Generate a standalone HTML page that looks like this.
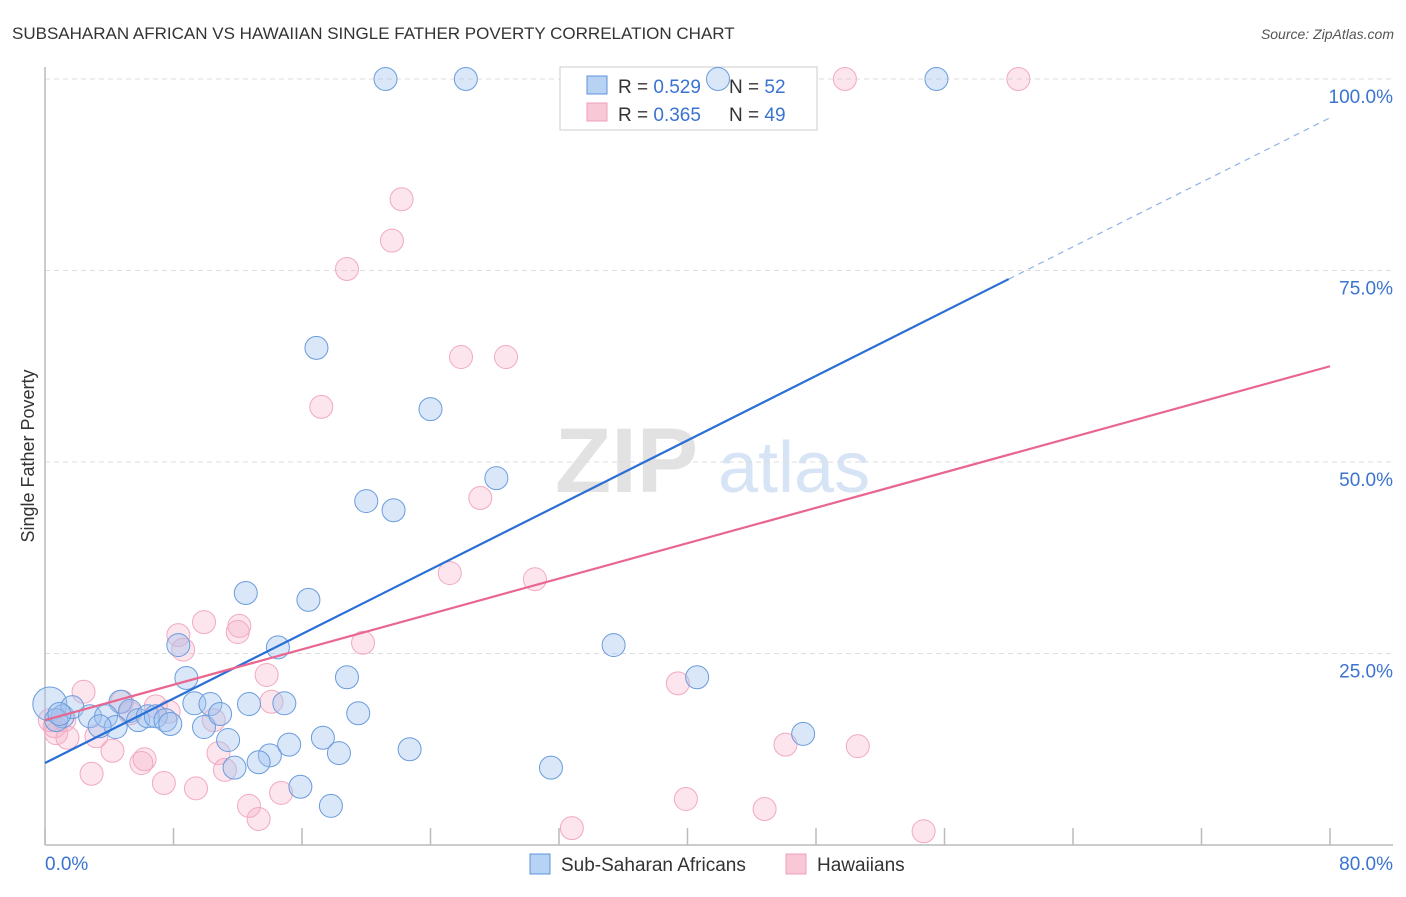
<!DOCTYPE html>
<html><head><meta charset="utf-8"><style>
body{margin:0;background:#fff;font-family:"Liberation Sans",sans-serif}
svg text{font-family:"Liberation Sans",sans-serif}
</style></head><body>
<svg id="chart" width="1406" height="892" xmlns="http://www.w3.org/2000/svg">
<text x="12" y="39" font-size="17" fill="#333">SUBSAHARAN AFRICAN VS HAWAIIAN SINGLE FATHER POVERTY CORRELATION CHART</text>
<text x="1394" y="39" font-size="14" fill="#555" font-style="italic" text-anchor="end">Source: ZipAtlas.com</text>
<g>
<text x="555" y="492" font-size="92" fill="#e2e2e2" font-family="Liberation Serif" font-weight="bold">ZIP</text>
<text x="718" y="492" font-size="72" fill="#d6e4f5">atlas</text>
</g>
<g id="grid"></g>
<g id="axes"></g>
<g>
<rect x="560" y="67" width="257" height="63" fill="#fff" stroke="#ccc"/>
<rect x="587" y="76" width="20" height="18" fill="#b8d2f3" stroke="#5b93d9"/>
<rect x="587" y="103" width="20" height="18" fill="#f9c8d6" stroke="#f0a0b8"/>
<text x="618" y="93" font-size="19" fill="#333">R = <tspan fill="#3a73d0">0.529</tspan></text>
<text x="729" y="93" font-size="19" fill="#333">N = <tspan fill="#3a73d0">52</tspan></text>
<text x="618" y="121" font-size="19" fill="#333">R = <tspan fill="#3a73d0">0.365</tspan></text>
<text x="729" y="121" font-size="19" fill="#333">N = <tspan fill="#3a73d0">49</tspan></text>
</g>
<g id="pts"></g>
<g id="lines"></g>
<text transform="translate(34,456) rotate(-90)" font-size="18" fill="#333" text-anchor="middle">Single Father Poverty</text>
<g>
<rect x="530" y="854" width="20" height="20" fill="#b8d2f3" stroke="#5b93d9"/>
<text x="561" y="871" font-size="19" fill="#333">Sub-Saharan Africans</text>
<rect x="786" y="854" width="20" height="20" fill="#f9c8d6" stroke="#f0a0b8"/>
<text x="817" y="871" font-size="19" fill="#333">Hawaiians</text>
</g>
</svg>
<script>
const blueX=[21.2,26.2,41.9,55.5,16.9,24.0,28.1,20.0,21.7,12.5,16.4,14.5,35.4,8.3,8.8,18.8,40.6,0.3,4.7,9.3,12.7,14.9,10.3,1.1,1.7,2.8,3.8,5.3,5.8,6.4,6.9,7.5,7.8,9.9,10.9,4.4,3.4,19.5,11.4,17.3,14.0,15.2,22.7,18.3,13.3,11.8,31.5,47.2,15.9,17.8,0.7,0.9];
const blueY=[100,100,100,100,64.9,56.9,47.9,44.9,43.7,32.9,32.0,25.8,26.1,26.1,21.8,21.9,21.9,18.4,18.7,18.5,18.4,18.5,18.4,16.8,18.0,16.8,16.8,17.5,16.3,16.8,16.8,16.3,15.8,15.4,17.1,15.4,15.5,17.2,13.7,14.0,11.7,13.1,12.5,12.0,10.8,10.1,10.1,14.5,7.6,5.1,16.3,17.1];
const pinkX=[49.8,60.6,22.2,21.6,18.8,25.9,28.7,17.2,27.1,25.2,30.5,19.8,8.3,8.6,9.9,12.1,12.0,13.8,14.1,2.4,4.8,6.9,7.7,5.3,10.5,1.2,0.6,0.3,0.7,1.4,3.2,4.2,6.2,6.0,10.8,11.2,2.9,7.4,9.4,12.7,14.7,13.3,39.9,32.8,44.8,46.1,50.6,54.7,39.4];
const pinkY=[100,100,84.3,78.9,75.2,63.7,63.7,57.2,45.3,35.5,34.7,26.4,27.4,25.5,29.1,28.6,27.8,22.2,18.7,20.0,18.7,18.1,17.4,17.2,16.3,16.3,15.5,16.3,14.6,14.0,14.2,12.3,11.2,10.7,12.0,9.8,9.3,8.1,7.4,5.1,6.8,3.4,6.0,2.2,4.7,13.1,12.9,1.8,21.1];
const blueLine=[10.7,1.053];
const pinkLine=[16.3,0.5775];
const yTicks=[25,50,75,100];
const yTickLabels=["25.0%","50.0%","75.0%","100.0%"];
const xTicks=[0,8,16,24,32,40,48,56,64,72,80];
const NS="http://www.w3.org/2000/svg";
const xs=v=>45+v*1285/80;
const ys=v=>845-v*7.66;
function mk(tag,attrs,parent){const e=document.createElementNS(NS,tag);for(const k in attrs)e.setAttribute(k,attrs[k]);parent.appendChild(e);return e;}
const grid=document.getElementById('grid'),axes=document.getElementById('axes');
yTicks.forEach((t,i)=>{
 const l=mk('line',{x1:45,x2:1393,y1:ys(t),y2:ys(t),stroke:'#ddd','stroke-dasharray':'5,4'},grid);
 
 
 const tx=mk('text',{x:1393,y:ys(t)+24,'font-size':19,fill:'#3a73d0','text-anchor':'end'},axes);
 tx.textContent=yTickLabels[i];
 
 
});
mk('line',{x1:45,x2:45,y1:67,y2:845,stroke:'#bbb','stroke-width':1.5},axes);
mk('line',{x1:45,x2:1393,y1:845,y2:845,stroke:'#bbb','stroke-width':1.5},axes);
xTicks.forEach(t=>{const l=mk('line',{x1:xs(t),x2:xs(t),y1:828,y2:845,stroke:'#bbb','stroke-width':1.5},axes);
 
 });
const xl0=mk('text',{x:45,y:870,'font-size':19,fill:'#3a73d0'},axes);xl0.textContent='0.0%';


const xl1=mk('text',{x:1393,y:870,'font-size':19,fill:'#3a73d0','text-anchor':'end'},axes);xl1.textContent='80.0%';


const pts=document.getElementById('pts');
pinkX.forEach((x,i)=>{const c=mk('circle',{cx:xs(x),cy:ys(pinkY[i]),r:11.5,fill:'rgba(247,175,198,0.32)',stroke:'#f2a9c0','stroke-width':1},pts);
 
 });
blueX.forEach((x,i)=>{const c=mk('circle',{cx:xs(x),cy:ys(blueY[i]),r:i==17?17:11.5,fill:'rgba(160,196,240,0.4)',stroke:'#6a9cdc','stroke-width':1},pts);
 
 });
const lines=document.getElementById('lines');
const bl=mk('line',{x1:xs(0),y1:ys(blueLine[0]),x2:xs(60),y2:ys(blueLine[0]+blueLine[1]*60),stroke:'#2a6fd6','stroke-width':2.2},lines);


const bd=mk('line',{x1:xs(60),y1:ys(blueLine[0]+blueLine[1]*60),x2:xs(80),y2:ys(blueLine[0]+blueLine[1]*80),stroke:'#8fb3e6','stroke-width':1.2,'stroke-dasharray':'6,5'},lines);


const pl=mk('line',{x1:xs(0),y1:ys(pinkLine[0]),x2:xs(80),y2:ys(pinkLine[0]+pinkLine[1]*80),stroke:'#e8668f','stroke-width':2.2},lines);


</script>
</body></html>
